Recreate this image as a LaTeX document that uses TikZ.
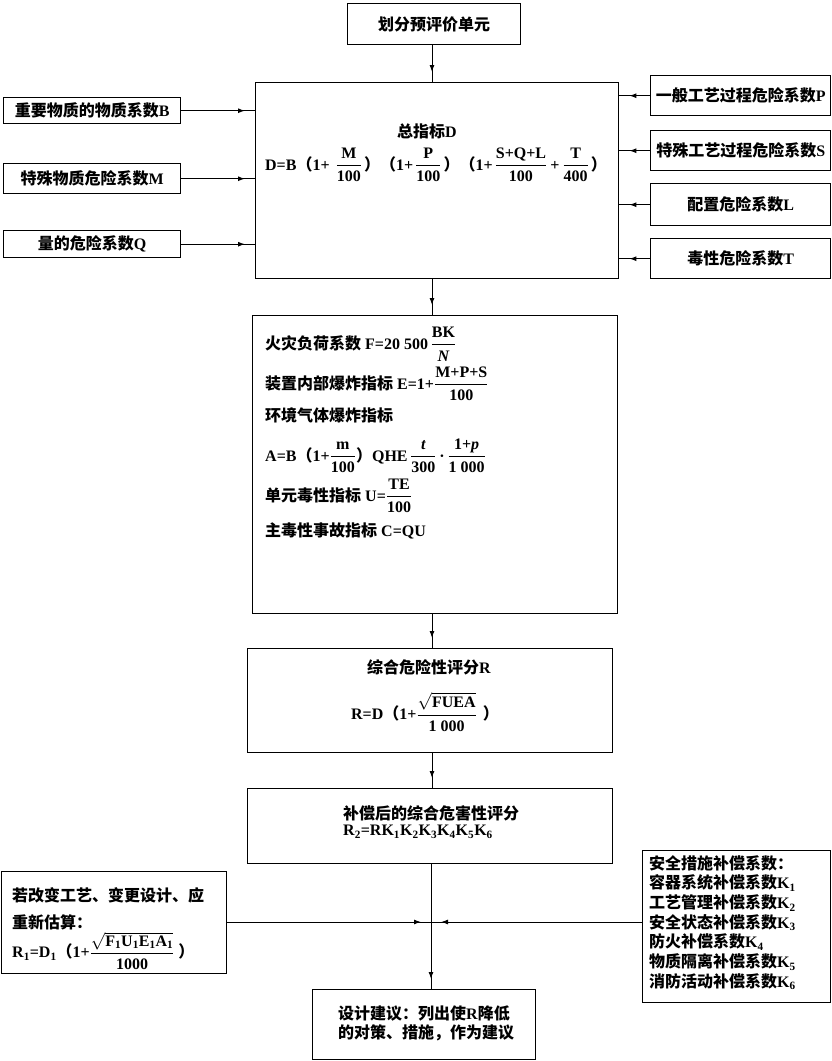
\documentclass[tikz,border=0pt]{standalone}
\usepackage{amsmath}
\usepackage{fontspec}
\setmainfont{Liberation Serif}
\newfontfamily\cjk{Noto Sans CJK SC}
\usetikzlibrary{arrows.meta,decorations.markings}
\newcommand\myfr[2]{$\dfrac{\text{#1}}{\text{#2}}$}
\newcommand\cj[1]{{\cjk #1}}
\begin{document}
\begin{tikzpicture}[x=1pt,y=-1pt,
  box/.style={draw, line width=1.4pt, inner sep=0pt, anchor=north west},
  txt/.style={font=\bfseries\fontsize{16}{19}\selectfont, inner sep=0pt},
  conn/.style={line width=1pt, postaction={decorate},
    decoration={markings, mark=at position -10pt with {\arrow{Latex[length=7pt,width=5pt]}}}}
]
\useasboundingbox (0,0) rectangle (832,1061);
% boxes
\node[box, minimum width=173pt, minimum height=41pt] (top) at (347,3) {};
\node[box, minimum width=363pt, minimum height=196pt] (D) at (255,82) {};
\node[box, minimum width=177pt, minimum height=26pt] (B) at (3,97) {};
\node[box, minimum width=177pt, minimum height=30pt] (M) at (3,163) {};
\node[box, minimum width=177pt, minimum height=27pt] (Q) at (3,230) {};
\node[box, minimum width=180pt, minimum height=40pt] (P) at (650,75) {};
\node[box, minimum width=180pt, minimum height=40pt] (S) at (650,130) {};
\node[box, minimum width=180pt, minimum height=42pt] (L) at (650,183) {};
\node[box, minimum width=180pt, minimum height=40pt] (T) at (650,238) {};
\node[box, minimum width=365pt, minimum height=298pt] (mid) at (252,315) {};
\node[box, minimum width=365pt, minimum height=104pt] (R) at (247,648) {};
\node[box, minimum width=365pt, minimum height=75pt] (R2) at (247,788) {};
\node[box, minimum width=225pt, minimum height=102pt] (LB) at (1,871) {};
\node[box, minimum width=188pt, minimum height=152pt] (RB) at (642,850) {};
\node[box, minimum width=223pt, minimum height=70pt] (sug) at (312,989) {};
% texts
\node[txt] (ttop) at (top.center) {\cj{划分预评价单元}};
\node[txt] (tB) at (B.center) {\cj{重要物质的物质系数}B};
\node[txt] (tM) at (M.center) {\cj{特殊物质危险系数}M};
\node[txt] (tQ) at (Q.center) {\cj{量的危险系数}Q};
\node[txt] (tP) at (P.center) {\cj{一般工艺过程危险系数}P};
\node[txt] (tS) at (S.center) {\cj{特殊工艺过程危险系数}S};
\node[txt] (tL) at (L.center) {\cj{配置危险系数}L};
\node[txt] (tT) at (T.center) {\cj{毒性危险系数}T};
\node[txt] (tD1) at (427,131) {\cj{总指标}D};
\node[txt] (tD2) at (436,165) {D=B\cj{（}1+\hspace{6pt}\myfr{M}{100}\hspace{2pt}\cj{）（}1+\hspace{2pt}\myfr{P}{100}\hspace{2pt}\cj{）（}1+\hspace{2pt}\myfr{S+Q+L}{100}\hspace{3pt}+\hspace{3pt}\myfr{T}{400}\hspace{2pt}\cj{）}};
\node[txt, anchor=west] (tF) at (265,344) {\cj{火灾负荷系数} F=20 500\,$\dfrac{\text{BK}}{\textit{N}}$};
\node[txt, anchor=west] (tE) at (265,384) {\cj{装置内部爆炸指标} E=1+\myfr{M+P+S}{100}};
\node[txt, anchor=west] (tEnv) at (265,415) {\cj{环境气体爆炸指标}};
\node[txt, anchor=west] (tA) at (265,456) {A=B\cj{（}1+\myfr{m}{100}\cj{）}QHE\,\myfr{\textit{t}}{300}\,·\,\myfr{1+\textit{p}}{1 000}};
\node[txt, anchor=west] (tU) at (265,496) {\cj{单元毒性指标} U=\myfr{TE}{100}};
\node[txt, anchor=west] (tC) at (265,531) {\cj{主毒性事故指标} C=QU};
\node[txt] (tR1) at (429,667) {\cj{综合危险性评分}R};
\node[txt] (tR2) at (425,712) {R=D\cj{（}1+$\dfrac{\sqrt{\text{FUEA}}}{\text{1 000}}$\hspace{6pt}\cj{）}};
\node[txt, anchor=west] (tK1) at (343,813) {\cj{补偿后的综合危害性评分}};
\node[txt, anchor=west] (tK2) at (343,832) {R\textsubscript{2}=RK\textsubscript{1}K\textsubscript{2}K\textsubscript{3}K\textsubscript{4}K\textsubscript{5}K\textsubscript{6}};
\node[txt, anchor=west] (tL1) at (12,895) {\cj{若改变工艺、变更设计、应}};
\node[txt, anchor=west] (tL2) at (12,922) {\cj{重新估算：}};
\node[txt, anchor=west] (tL3) at (12,951) {R\textsubscript{1}=D\textsubscript{1}\cj{（}1+$\dfrac{\sqrt{\text{F\textsubscript{1}U\textsubscript{1}E\textsubscript{1}A\textsubscript{1}}}}{\text{1000}}$\hspace{4pt}\cj{）}};
\node[txt, anchor=west] (tS1) at (338,1013) {\cj{设计建议：列出使}R\cj{降低}};
\node[txt, anchor=west] (tS2) at (338,1033) {\cj{的对策、措施，作为建议}};
\node[txt, anchor=north west, align=left, font=\bfseries\fontsize{16}{19.7}\selectfont] (tRB) at (649,855)
  {\cj{安全措施补偿系数：}\\
   \cj{容器系统补偿系数}K\textsubscript{1}\\
   \cj{工艺管理补偿系数}K\textsubscript{2}\\
   \cj{安全状态补偿系数}K\textsubscript{3}\\
   \cj{防火补偿系数}K\textsubscript{4}\\
   \cj{物质隔离补偿系数}K\textsubscript{5}\\
   \cj{消防活动补偿系数}K\textsubscript{6}};
% connectors
\coordinate (cx) at (432,0);
\coordinate (vx) at (431,922);
\draw[conn] (top.south -| cx) -- (D.north -| cx);
\draw[conn] (B.east) -- (B.east -| D.west);
\draw[conn] (M.east) -- (M.east -| D.west);
\draw[conn] (Q.east) -- (Q.east -| D.west);
\draw[conn] (P.west) -- (P.west -| D.east);
\draw[conn] (S.west) -- (S.west -| D.east);
\draw[conn] (L.west) -- (L.west -| D.east);
\draw[conn] (T.west) -- (T.west -| D.east);
\draw[conn] (D.south -| cx) -- (mid.north -| cx);
\draw[conn] (mid.south -| cx) -- (R.north -| cx);
\draw[conn] (R.south -| cx) -- (R2.north -| cx);
\draw[conn] (R2.south -| vx) -- (sug.north -| vx);
\draw[conn] (LB.east |- vx) -- (vx);
\draw[conn] (RB.west |- vx) -- (vx);
\end{tikzpicture}
\end{document}
